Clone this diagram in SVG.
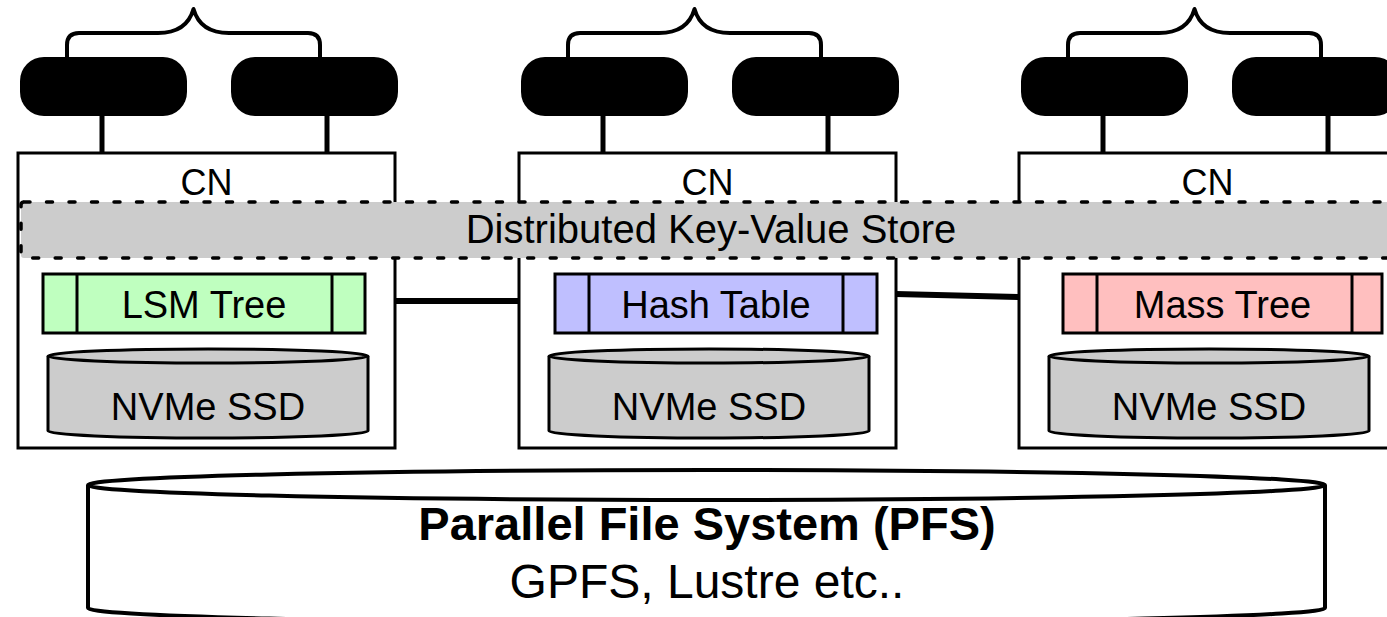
<svg xmlns="http://www.w3.org/2000/svg" width="1387" height="617" viewBox="0 0 1387 617">
<style>
text { font-family: "Liberation Sans", Arial, Helvetica, sans-serif; fill: #000; text-anchor: middle; }
.lbl { font-size: 38px; }
.cn { font-size: 36px; }
.box { fill: #fff; stroke: #000; stroke-width: 3; }
.pill { fill: #000; }
.stem { stroke: #000; stroke-width: 5; }
.brace { fill: none; stroke: #000; stroke-width: 4; stroke-linejoin: round; stroke-linecap: round; }
.ds { stroke: #000; stroke-width: 3; }
.div { stroke: #000; stroke-width: 3; }
.disk { fill: #cccccc; stroke: #000; stroke-width: 3; }
.link { stroke: #000; stroke-width: 6; }
.band { fill: #cccccc; stroke: #000; stroke-width: 3.5; stroke-dasharray: 6 16.5; stroke-linecap: round; }
.pfs { fill: #fff; stroke: #000; stroke-width: 4; }
</style>
<defs>
  <g id="top">
    <path class="brace" d="M49 57 V45 Q49 33 61 33 H140 C160 33 171 25 175.5 9 C180 25 191 33 211 33 H290 Q302 33 302 45 V57"/>
    <rect class="pill" x="2" y="57" width="167" height="59" rx="24"/>
    <rect class="pill" x="213" y="57" width="167" height="59" rx="24"/>
    <line class="stem" x1="84" y1="114" x2="84" y2="154"/>
    <line class="stem" x1="309" y1="114" x2="309" y2="154"/>
  </g>
  <g id="ssd">
    <path class="disk" d="M30 356 V431 A160 7 0 0 0 350 431 V356"/>
    <ellipse class="disk" cx="190" cy="356" rx="160" ry="7"/>
    <text class="lbl" x="190" y="420">NVMe SSD</text>
  </g>
</defs>

<g id="pfs">
  <path class="pfs" d="M88 485 V608 A618.5 15 0 0 0 1325 608 V485"/>
  <ellipse class="pfs" cx="706.5" cy="485" rx="618.5" ry="15"/>
  <text x="707" y="540" style="font-size:47px;font-weight:bold">Parallel File System (PFS)</text>
  <text x="707" y="598" style="font-size:48px">GPFS, Lustre etc..</text>
</g>

<g id="node1" transform="translate(18,0)">
  <use href="#top"/>
  <rect class="box" x="0" y="153" width="377" height="295"/>
  <text class="cn" x="188.5" y="195">CN</text>
  <rect class="ds" x="25" y="274" width="322" height="59" fill="#bfffbf"/>
  <line class="div" x1="59" y1="274" x2="59" y2="333"/>
  <line class="div" x1="314" y1="274" x2="314" y2="333"/>
  <text class="lbl" x="186" y="318">LSM Tree</text>
  <use href="#ssd"/>
</g>

<g id="node2" transform="translate(519,0)">
  <use href="#top"/>
  <rect class="box" x="0" y="153" width="377" height="295"/>
  <text class="cn" x="188.5" y="195">CN</text>
  <rect class="ds" x="36" y="274" width="322" height="59" fill="#bfbfff"/>
  <line class="div" x1="70" y1="274" x2="70" y2="333"/>
  <line class="div" x1="324" y1="274" x2="324" y2="333"/>
  <text class="lbl" x="197" y="318">Hash Table</text>
  <use href="#ssd"/>
</g>

<g id="node3" transform="translate(1019,0)">
  <use href="#top"/>
  <rect class="box" x="0" y="153" width="377" height="295"/>
  <text class="cn" x="188.5" y="195">CN</text>
  <rect class="ds" x="44" y="274" width="319" height="59" fill="#ffbfbf"/>
  <line class="div" x1="78" y1="274" x2="78" y2="333"/>
  <line class="div" x1="333" y1="274" x2="333" y2="333"/>
  <text class="lbl" x="203.5" y="318">Mass Tree</text>
  <use href="#ssd"/>
</g>

<g id="connectors">
  <line class="link" x1="395" y1="301" x2="519" y2="301"/>
  <line class="link" x1="896" y1="294" x2="1019" y2="297"/>
</g>

<g id="kvstore">
  <rect class="band" x="21" y="202" width="1390" height="56" rx="3"/>
  <text x="711" y="243" style="font-size:40px">Distributed Key-Value Store</text>
</g>
</svg>
